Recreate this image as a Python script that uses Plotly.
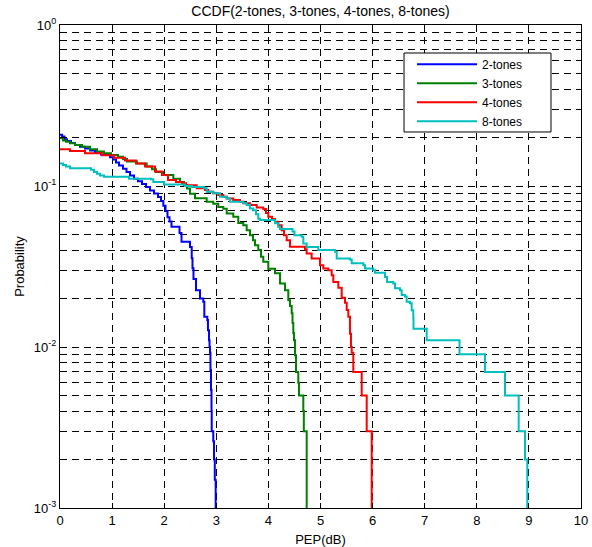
import plotly.graph_objects as go

# Empirical CCDF of peak envelope power (dB) for multi-tone signals.
# Each pair: PEP value where the step starts, probability level held from there.
pep_2tones = [0.0, 0.04, 0.086, 0.134, 0.211, 0.288, 0.384, 0.48, 0.576, 0.672,
              0.787, 0.96, 1.017, 1.075, 1.132, 1.209, 1.276, 1.344, 1.42, 1.497,
              1.574, 1.651, 1.727, 1.804, 1.881, 1.939, 1.983, 2.025, 2.063, 2.102,
              2.14, 2.294, 2.332, 2.495, 2.528, 2.543, 2.562, 2.61, 2.687, 2.75,
              2.77, 2.827, 2.84, 2.86, 2.87, 2.879, 2.888, 2.898, 2.908, 2.912,
              2.942, 2.956, 2.971, 2.988]
prob_2tones = [0.208, 0.203, 0.195, 0.190, 0.185, 0.180, 0.175, 0.171, 0.166, 0.162,
               0.157, 0.151, 0.146, 0.140, 0.134, 0.128, 0.122, 0.116, 0.111, 0.107,
               0.103, 0.0986, 0.0936, 0.0897, 0.0853, 0.0806, 0.0755, 0.0700, 0.0640, 0.0601,
               0.0558, 0.0510, 0.0450, 0.0418, 0.0356, 0.0308, 0.0264, 0.0225, 0.0200, 0.0191,
               0.0154, 0.0147, 0.0127, 0.0110, 0.0100, 0.0092, 0.0072, 0.0054, 0.0040, 0.0030,
               0.0026, 0.0020, 0.0015, 0.001]

pep_3tones = [0.0, 0.058, 0.115, 0.192, 0.288, 0.422, 0.576, 0.71, 0.845, 0.979,
              1.113, 1.209, 1.286, 1.478, 1.664, 1.766, 1.843, 1.983, 2.175, 2.303,
              2.38, 2.438, 2.495, 2.591, 2.816, 2.942, 3.038, 3.134, 3.2, 3.326,
              3.422, 3.518, 3.583, 3.647, 3.704, 3.743, 3.806, 3.858, 3.902, 3.998,
              4.127, 4.223, 4.319, 4.382, 4.415, 4.447, 4.463, 4.478, 4.491, 4.511,
              4.53, 4.574, 4.587, 4.67, 4.68, 4.735]
prob_3tones = [0.198, 0.192, 0.188, 0.184, 0.180, 0.175, 0.169, 0.164, 0.160, 0.156,
               0.152, 0.147, 0.142, 0.138, 0.132, 0.127, 0.122, 0.117, 0.111, 0.106,
               0.101, 0.0965, 0.0896, 0.0840, 0.0797, 0.0775, 0.0740, 0.0722, 0.0676, 0.0645,
               0.0589, 0.0571, 0.0532, 0.0495, 0.0461, 0.0429, 0.0400, 0.0364, 0.0338, 0.0306,
               0.0287, 0.0248, 0.0225, 0.0195, 0.0180, 0.0162, 0.0141, 0.0122, 0.0110, 0.0089,
               0.007, 0.006, 0.005, 0.004, 0.003, 0.001]

pep_4tones = [0.0, 0.192, 0.48, 0.806, 1.036, 1.248, 1.459, 1.631, 1.823, 1.958,
              2.073, 2.226, 2.342, 2.418, 2.624, 2.783, 2.846, 2.942, 3.038, 3.134,
              3.2, 3.326, 3.455, 3.518, 3.647, 3.775, 3.902, 3.954, 3.998, 4.069,
              4.127, 4.19, 4.255, 4.299, 4.351, 4.415, 4.702, 4.734, 4.83, 4.99,
              5.054, 5.15, 5.215, 5.246, 5.342, 5.407, 5.47, 5.503, 5.534, 5.566,
              5.585, 5.599, 5.63, 5.791, 5.887, 5.983]
prob_4tones = [0.169, 0.165, 0.160, 0.155, 0.150, 0.144, 0.138, 0.132, 0.123, 0.117,
               0.109, 0.106, 0.104, 0.101, 0.0967, 0.0943, 0.0921, 0.0900, 0.0878, 0.0857,
               0.0837, 0.0818, 0.0799, 0.0780, 0.0761, 0.0736, 0.0720, 0.0680, 0.0645, 0.0624,
               0.0600, 0.0571, 0.0532, 0.0495, 0.0461, 0.0419, 0.0405, 0.0381, 0.0355, 0.0322,
               0.0307, 0.0300, 0.0279, 0.0253, 0.0233, 0.0202, 0.0188, 0.0170, 0.0154, 0.0121,
               0.0100, 0.0092, 0.007, 0.005, 0.003, 0.001]

pep_8tones = [0.0, 0.058, 0.115, 0.192, 0.595, 0.653, 0.71, 0.768, 0.845, 1.324,
              1.747, 1.791, 1.996, 2.399, 2.534, 2.764, 2.816, 2.942, 3.071, 3.2,
              3.263, 3.518, 3.583, 3.647, 3.711, 3.762, 3.806, 3.839, 4.127, 4.19,
              4.223, 4.463, 4.501, 4.639, 4.67, 4.735, 4.958, 5.278, 5.311, 5.566,
              5.599, 5.822, 5.854, 6.013, 6.046, 6.238, 6.276, 6.397, 6.43, 6.526,
              6.558, 6.622, 6.654, 6.718, 6.75, 6.781, 6.785, 7.038, 7.668, 8.157,
              8.541, 8.804, 8.925, 8.969]
prob_8tones = [0.138, 0.135, 0.132, 0.129, 0.126, 0.122, 0.119, 0.116, 0.114, 0.111,
               0.110, 0.106, 0.102, 0.100, 0.0986, 0.0967, 0.0921, 0.0900, 0.0857, 0.0837,
               0.0799, 0.0780, 0.0761, 0.0725, 0.0708, 0.0667, 0.0627, 0.0614, 0.0586, 0.0559,
               0.0541, 0.0522, 0.0495, 0.0484, 0.0440, 0.0418, 0.0400, 0.0390, 0.0355, 0.0349,
               0.0331, 0.0322, 0.0307, 0.0300, 0.0289, 0.0272, 0.0253, 0.0248, 0.0232, 0.0225,
               0.0210, 0.0206, 0.0191, 0.0187, 0.0169, 0.0151, 0.013, 0.011, 0.009, 0.007,
               0.005, 0.003, 0.002, 0.001]

series_names = ["2-tones", "3-tones", "4-tones", "8-tones"]
series_colors = ["rgb(0,0,255)", "rgb(0,128,0)", "rgb(255,0,0)", "rgb(0,191,191)"]
series_x = [pep_2tones, pep_3tones, pep_4tones, pep_8tones]
series_y = [prob_2tones, prob_3tones, prob_4tones, prob_8tones]

x_ticks = list(range(0, 11))
decades = [-3, -2, -1, 0]

# log-axis grid at every 1..9 multiple, labels only at decades
y_tickvals, y_ticktext = [], []
for d in decades:
    for m in range(1, 10):
        if d == 0 and m > 1:
            break
        y_tickvals.append(m * 10.0 ** d)
        y_ticktext.append(f"10<sup>{d}</sup>" if m == 1 else "")

FONT = "Liberation Sans, Arial, Helvetica, sans-serif"

fig = go.Figure()
for name, color, xs, ys in zip(series_names, series_colors, series_x, series_y):
    fig.add_trace(go.Scatter(
        x=xs, y=ys, name=name, mode="lines",
        line=dict(color=color, width=2, shape="hv"),
    ))

grid_style = dict(showgrid=True, gridcolor="black", gridwidth=1, griddash="7px,5px")

# framed legend box (wider than the entries, with white fill over the grid)
legend_frame = dict(type="rect", xref="paper", yref="paper",
                    x0=0.6603, x1=0.9424, y0=0.7785, y1=0.942,
                    line=dict(color="black", width=1), fillcolor="white",
                    layer="above")

fig.update_layout(
    width=592, height=547,
    margin=dict(l=60, r=11, t=25, b=39, autoexpand=False),
    paper_bgcolor="white", plot_bgcolor="white",
    font=dict(family=FONT, size=13, color="black"),
    title=dict(text="CCDF(2-tones, 3-tones, 4-tones, 8-tones)",
               x=0.5, xanchor="center", xref="paper",
               y=(547 - 11) / 547, yanchor="middle", yref="container",
               font=dict(family=FONT, size=14, color="black")),
    showlegend=True,
    legend=dict(x=0.6756, y=0.949, xanchor="left", yanchor="top",
                bgcolor="rgba(0,0,0,0)", borderwidth=0,
                font=dict(family=FONT, size=12, color="black"),
                itemwidth=60, tracegroupgap=0),
    shapes=[legend_frame],
    xaxis=dict(range=[0, 10], tickvals=x_ticks, ticktext=[str(v) for v in x_ticks],
               ticks="inside", ticklen=5, tickcolor="black",
               showline=True, linecolor="black", linewidth=1, mirror="allticks",
               zeroline=False, automargin=False,
               title=dict(text="PEP(dB)", standoff=8,
                          font=dict(family=FONT, size=13)),
               **grid_style),
    yaxis=dict(type="log", range=[-3, 0], tickvals=y_tickvals, ticktext=y_ticktext,
               ticks="inside", ticklen=5, tickcolor="black",
               showline=True, linecolor="black", linewidth=1, mirror="allticks",
               zeroline=False, automargin=False,
               title=dict(text="Probability", standoff=6,
                          font=dict(family=FONT, size=13)),
               **grid_style),
)

fig.write_html("out.html")
